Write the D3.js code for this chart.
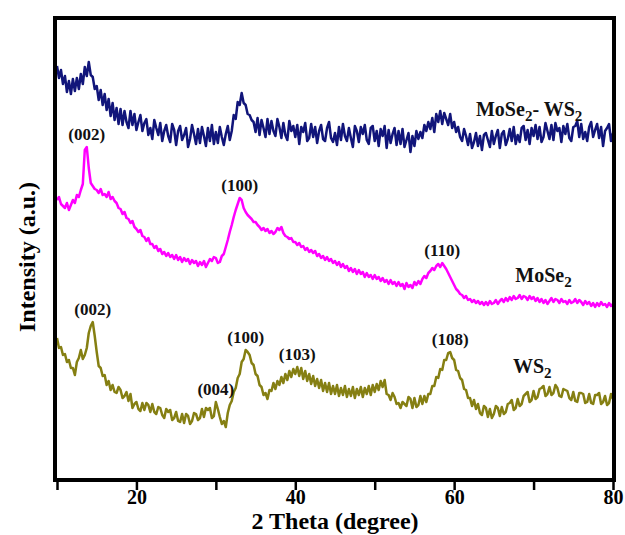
<!DOCTYPE html>
<html>
<head>
<meta charset="utf-8">
<script src="https://cdn.jsdelivr.net/npm/d3@7"></script>
<style>
  body { margin: 0; background: #fff; }
  svg { display: block; }
  svg text { font-family: "Liberation Serif", "Times New Roman", Times, "DejaVu Serif", serif; font-weight: bold; }
</style>
</head>
<body>
<svg id="chart" width="625" height="535"></svg>
<script>
// 2 theta sampling grid (degrees)
const twoTheta = d3.range(10, 80.001, 0.25);

// intensities (a.u., already offset per pattern as in the figure)
const mose2Ws2 = [
  414, 402, 410, 396, 404, 388, 399, 386, 401, 389, 402, 391, 406, 396, 413, 404,
  418, 405, 403, 391, 394, 380, 390, 375, 386, 370, 381, 364, 377, 360, 372, 356,
  371, 355, 369, 358, 352, 369, 355, 366, 350, 358, 365, 349, 357, 361, 345, 352,
  341, 360, 352, 345, 357, 339, 349, 355, 344, 338, 356, 350, 335, 349, 354, 340,
  345, 352, 333, 341, 355, 346, 336, 351, 337, 353, 344, 334, 352, 339, 355, 336,
  348, 337, 353, 343, 335, 346, 354, 340, 349, 365, 361, 378, 375, 387, 377, 375,
  366, 365, 360, 358, 348, 362, 345, 360, 352, 343, 361, 346, 359, 349, 344, 361,
  353, 342, 357, 345, 340, 359, 349, 354, 343, 355, 336, 353, 348, 357, 339, 342,
  356, 343, 353, 337, 349, 355, 341, 339, 352, 358, 342, 338, 347, 335, 353, 340,
  356, 344, 339, 352, 342, 333, 354, 349, 338, 353, 346, 355, 340, 336, 352, 354,
  339, 349, 334, 351, 344, 354, 332, 350, 337, 346, 352, 335, 349, 336, 351, 333,
  340, 347, 328, 344, 334, 349, 341, 348, 342, 355, 349, 358, 351, 362, 348, 366,
  358, 369, 356, 367, 361, 355, 366, 352, 358, 348, 353, 343, 339, 351, 344, 335,
  346, 332, 338, 347, 334, 344, 330, 345, 347, 340, 333, 349, 336, 344, 350, 332,
  346, 349, 335, 341, 351, 339, 353, 336, 345, 338, 352, 354, 340, 350, 336, 352,
  344, 355, 341, 353, 338, 343, 357, 349, 341, 355, 340, 357, 349, 352, 338, 354,
  346, 356, 342, 339, 353, 354, 359, 343, 356, 341, 348, 339, 353, 358, 343, 350,
  356, 342, 353, 334, 349, 352, 356, 339, 347
];

const mose2 = [
  280, 283, 276, 274, 272, 277, 270, 275, 280, 277, 285, 283, 290, 296, 330, 333,
  312, 297, 294, 291, 290, 287, 291, 285, 286, 283, 288, 281, 283, 279, 277, 272,
  271, 266, 268, 262, 261, 257, 259, 253, 251, 248, 250, 244, 243, 239, 242, 236,
  236, 232, 234, 229, 231, 226, 228, 224, 227, 223, 225, 221, 225, 220, 223, 218,
  222, 219, 221, 216, 220, 217, 219, 214, 218, 215, 219, 213, 217, 221, 219, 223,
  222, 217, 218, 224, 226, 233, 240, 248, 255, 263, 270, 276, 282, 280, 272, 268,
  265, 263, 261, 258, 258, 255, 253, 250, 252, 249, 251, 247, 249, 246, 248, 252,
  250, 253, 247, 244, 243, 241, 242, 238, 238, 235, 237, 233, 234, 230, 232, 228,
  230, 227, 229, 224, 226, 222, 224, 220, 223, 219, 221, 217, 219, 215, 218, 213,
  216, 212, 214, 209, 212, 208, 211, 206, 210, 206, 208, 203, 207, 203, 205, 201,
  205, 201, 203, 199, 202, 198, 200, 196, 200, 196, 198, 194, 198, 194, 196, 191,
  197, 193, 195, 192, 198, 195, 199, 196, 201, 204, 202, 207, 209, 212, 210, 214,
  216, 213, 217, 214, 211, 207, 203, 199, 195, 191, 189, 186, 185, 182, 184, 180,
  181, 178, 180, 177, 179, 176, 178, 175, 178, 175, 179, 176, 177, 180, 176, 179,
  181, 178, 182, 179, 183, 180, 184, 181, 182, 185, 181, 184, 183, 180, 184, 181,
  183, 179, 182, 178, 181, 177, 180, 176, 179, 182, 178, 181, 180, 177, 181, 178,
  179, 176, 180, 177, 178, 181, 177, 180, 178, 175, 179, 176, 178, 174, 177, 173,
  177, 174, 178, 175, 176, 173, 177, 174, 176
];

const ws2 = [
  142, 132, 133, 125, 126, 118, 120, 112, 112, 105, 118, 122, 130, 121, 125, 132,
  147, 154, 158, 144, 128, 114, 112, 104, 105, 95, 99, 90, 95, 88, 87, 93,
  90, 82, 84, 88, 79, 86, 72, 76, 78, 71, 69, 77, 70, 77, 75, 68,
  76, 68, 66, 73, 72, 65, 62, 71, 68, 70, 60, 62, 68, 59, 58, 66,
  57, 66, 64, 56, 59, 67, 66, 60, 62, 71, 63, 72, 70, 72, 62, 64,
  78, 71, 63, 56, 59, 53, 67, 75, 79, 88, 92, 102, 106, 118, 121, 130,
  128, 125, 117, 115, 106, 104, 95, 93, 85, 87, 81, 90, 89, 97, 91, 99,
  95, 103, 97, 106, 100, 109, 103, 111, 106, 113, 104, 112, 101, 109, 99, 106,
  96, 104, 94, 101, 92, 100, 89, 97, 88, 97, 86, 94, 86, 95, 84, 92,
  85, 94, 83, 91, 84, 93, 82, 91, 85, 93, 83, 92, 86, 94, 85, 95,
  88, 96, 90, 99, 93, 100, 86, 85, 80, 87, 83, 76, 77, 72, 78, 76,
  74, 83, 81, 72, 82, 73, 75, 84, 76, 84, 78, 86, 86, 94, 94, 103,
  102, 111, 110, 120, 120, 127, 128, 122, 120, 110, 109, 102, 100, 91, 90, 82,
  82, 74, 80, 71, 76, 67, 65, 74, 72, 63, 71, 62, 66, 74, 72, 64,
  73, 66, 68, 76, 77, 80, 70, 72, 81, 74, 76, 84, 86, 88, 78, 80,
  89, 81, 83, 91, 92, 94, 84, 86, 93, 85, 87, 95, 92, 84, 83, 91,
  90, 89, 82, 80, 88, 79, 78, 87, 87, 86, 77, 78, 86, 77, 76, 85,
  85, 87, 76, 78, 84, 75, 77, 86, 81
];

const xTicks = [10, 20, 30, 40, 50, 60, 70, 80];
const xTickLabels = ["", "20", "", "40", "", "60", "", "80"];

// hkl reflections labelled on the patterns
const mose2Peaks = [["(002)", 13.75], ["(100)", 33], ["(110)", 58.5]];
const ws2Peaks = [["(002)", 14.5], ["(004)", 30], ["(100)", 33.75], ["(103)", 40.25], ["(108)", 59.5]];

const series = [
  { name: ["MoSe", "2", "- WS", "2"], values: mose2Ws2, color: "#11157a", peaks: [], at: 62.75, level: 364 },
  { name: ["MoSe", "2"], values: mose2, color: "#ff00ff", peaks: mose2Peaks, at: 67.7, level: 198 },
  { name: ["WS", "2"], values: ws2, color: "#857f12", peaks: ws2Peaks, at: 67.4, level: 107 }
];

const svg = d3.select("#chart");
const margin = { left: 57, right: 12, top: 18, bottom: 55 };
const W = 625, H = 535;

const x = d3.scaleLinear().domain([10, 80]).range([margin.left, W - margin.right]);
const y = d3.scaleLinear().domain([0, 462]).range([H - margin.bottom, margin.top]);

svg.append("rect").attr("width", W).attr("height", H).attr("fill", "#fff");

const line = d3.line()
  .x((d, i) => x(twoTheta[i]))
  .y(d => y(d));

svg.selectAll("path.pattern")
  .data(series)
  .join("path")
  .attr("class", "pattern")
  .attr("d", d => line(d.values))
  .attr("fill", "none")
  .attr("stroke", d => d.color)
  .attr("stroke-width", 2.5)
  .attr("stroke-linejoin", "round");

// peak labels sit just above the local maximum
series.forEach(s => {
  svg.selectAll(null)
    .data(s.peaks)
    .join("text")
    .attr("x", d => x(d[1]))
    .attr("y", d => {
      const near = s.values.filter((v, i) => Math.abs(twoTheta[i] - d[1]) <= 0.75);
      return y(d3.max(near)) - 7;
    })
    .attr("text-anchor", "middle")
    .attr("font-size", 17)
    .attr("fill", "#111")
    .text(d => d[0]);

  const lab = svg.append("text")
    .attr("x", x(s.at))
    .attr("y", y(s.level))
    .attr("font-size", 20)
    .attr("fill", "#111");
  s.name.forEach((t, i) => {
    const sub = i % 2 === 1;
    lab.append("tspan")
      .attr("font-size", sub ? 15 : 20)
      .attr("dy", sub ? 5 : (i > 0 ? -5 : 0))
      .text(t);
  });
});

// frame
svg.append("rect")
  .attr("x", margin.left - 2)
  .attr("y", margin.top)
  .attr("width", W - margin.right - margin.left + 3)
  .attr("height", H - margin.bottom - margin.top)
  .attr("fill", "none")
  .attr("stroke", "#000")
  .attr("stroke-width", 4);

const xAxis = svg.append("g")
  .attr("transform", `translate(0,${H - margin.bottom + 2})`)
  .call(d3.axisBottom(x)
    .tickValues(xTicks)
    .tickSize(8)
    .tickPadding(0)
    .tickFormat((d, i) => xTickLabels[i]));
xAxis.attr("font-family", null);
xAxis.select(".domain").remove();
xAxis.selectAll(".tick line").attr("stroke", "#000").attr("stroke-width", 2.5);
xAxis.selectAll(".tick text")
  .attr("font-size", 20)
  .attr("fill", "#000");

svg.append("text")
  .attr("x", (margin.left + W - margin.right) / 2)
  .attr("y", 529)
  .attr("text-anchor", "middle")
  .attr("font-size", 24)
  .text("2 Theta (degree)");

svg.append("text")
  .attr("transform", "translate(35,257) rotate(-90)")
  .attr("text-anchor", "middle")
  .attr("font-size", 24)
  .text("Intensity (a.u.)");
</script>
</body>
</html>
